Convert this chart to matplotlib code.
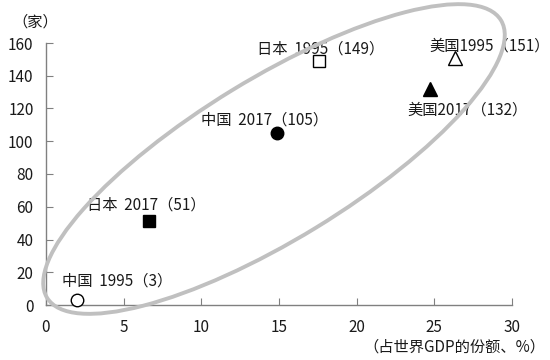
import matplotlib
matplotlib.use("Agg")
import matplotlib.pyplot as plt
import matplotlib.transforms as mtransforms
from matplotlib.patches import Ellipse

plt.rcParams['font.family'] = ['Noto Sans CJK SC', 'DejaVu Sans']

labels = ["中国  1995（3）", "日本  2017（51）", "中国  2017（105）",
          "日本  1995（149）", "美国2017（132）", "美国1995（151）"]
gdp_share = [2.0, 6.6, 14.9, 17.6, 24.7, 26.3]
companies = [3, 51, 105, 149, 132, 151]
markers = ["o", "s", "o", "s", "^", "^"]
filled = [False, True, True, False, True, False]
label_offsets = [(-10.8, 13.7), (-44.6, 12.2), (-55.4, 9.4), (-44.6, 8.6),
                 (-15.8, -15.1), (-18, 8.6)]

xticks = [0, 5, 10, 15, 20, 25, 30]
yticks = [0, 20, 40, 60, 80, 100, 120, 140, 160]

fig = plt.figure(figsize=(5.5, 3.6), dpi=100)
ax = fig.add_axes([46/550, 1-305/360, (512-46)/550, (305-43)/360])

for x, y, m, f in zip(gdp_share, companies, markers, filled):
    ax.plot(x, y, marker=m, markersize=9 if m != "^" else 9.5,
            markerfacecolor="black" if f else "white",
            markeredgecolor="black", markeredgewidth=1.0, linestyle="none",
            clip_on=False, zorder=3)

for x, y, t, (dx, dy) in zip(gdp_share, companies, labels, label_offsets):
    ax.annotate(t, (x, y), xytext=(dx, dy), textcoords="offset points",
                fontsize=11, ha="left", va="center", color="#1a1a1a")

# ellipse in figure pixel coordinates (y downward)
pix = mtransforms.Affine2D().scale(1/100, -1/100).translate(0, 3.6) + fig.dpi_scale_trans
ell = Ellipse((274, 159), 532, 161, angle=-31.45, transform=pix,
              fill=False, edgecolor="#c0c0c0", linewidth=2.8, zorder=2)
fig.patches.append(ell)

ax.set_xlim(0, 30)
ax.set_ylim(0, 160)
ax.set_xticks(xticks)
ax.set_yticks(yticks)
for s in ["top", "right"]:
    ax.spines[s].set_visible(False)
for s in ["left", "bottom"]:
    ax.spines[s].set_color("#808080")
    ax.spines[s].set_linewidth(1.0)
ax.tick_params(direction="in", length=5, color="#808080", labelsize=11,
               labelcolor="#1a1a1a")
ax.tick_params(axis="x", pad=10)
ax.tick_params(axis="y", pad=9)

fig.text(12/550, 1-22/360, "（家）", fontsize=11, ha="left", va="center", color="#1a1a1a")
fig.text(545/550, 1-347/360, "（占世界GDP的份额、%）", fontsize=11, ha="right",
         va="center", color="#1a1a1a")

fig.savefig("out.png", dpi=100)
